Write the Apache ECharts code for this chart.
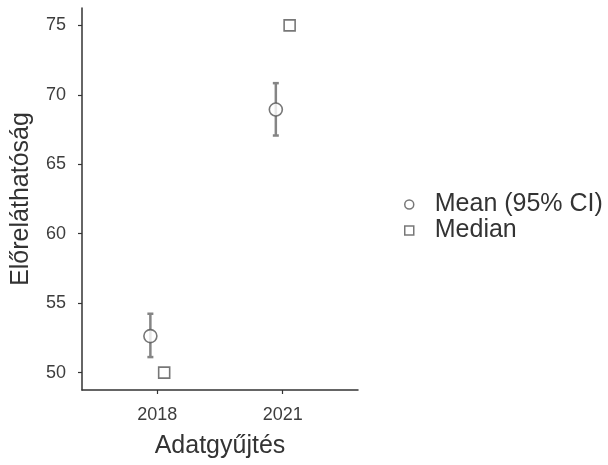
<!DOCTYPE html>
<html>
<head>
<meta charset="utf-8">
<script src="https://cdn.jsdelivr.net/npm/echarts@6/dist/echarts.min.js"></script>
<style>html,body{margin:0;padding:0;background:#fff;}#c{width:608px;height:465px;}</style>
</head>
<body>
<div id="c"></div>
<script>
var categories = ['2018', '2021'];
var meanValues = [52.63, 68.94];
var ciLower = [51.12, 67.07];
var ciUpper = [54.24, 70.84];
var medianValues = [50, 75];
var yTicks = [50, 55, 60, 65, 70, 75];
var dodge = 0.055;

var meanData = categories.map(function (c, i) { return [i + 1 - dodge, meanValues[i]]; });
var medianData = categories.map(function (c, i) { return [i + 1 + dodge, medianValues[i]]; });
var ciData = categories.map(function (c, i) { return [i + 1 - dodge, ciLower[i], ciUpper[i]]; });

var chart = echarts.init(document.getElementById('c'), null, {renderer: 'canvas'});
var FONT = 'Liberation Sans, Arial, sans-serif';
chart.setOption({
  animation: false,
  backgroundColor: '#ffffff',
  grid: {left: 82, top: 8, right: 250, bottom: 75, containLabel: false, outerBoundsMode: 'none'},
  xAxis: {
    type: 'value', min: 0.4, max: 2.6, interval: 1,
    name: 'Adatgyűjtés', nameLocation: 'middle', nameGap: 44,
    nameTextStyle: {fontFamily: FONT, fontSize: 25, color: '#333'},
    axisLine: {show: true, lineStyle: {color: '#333', width: 1.5}},
    axisTick: {show: true, length: 4, lineStyle: {color: '#333', width: 1.2}, customValues: [1, 2]},
    axisLabel: {fontFamily: FONT, fontSize: 18, color: '#3d3d3d', margin: 16, customValues: [1, 2],
      formatter: function (v) { var i = Math.round(v) - 1; return (Math.abs(v - Math.round(v)) < 1e-6 && categories[i]) ? categories[i] : ''; }},
    splitLine: {show: false}
  },
  yAxis: {
    type: 'value', min: 48.75, max: 76.25,
    name: 'Előreláthatóság', nameLocation: 'middle', nameGap: 48, nameRotate: 90,
    nameTextStyle: {fontFamily: FONT, fontSize: 25, color: '#333'},
    axisLine: {show: true, lineStyle: {color: '#333', width: 1.5}},
    axisTick: {show: true, length: 4, lineStyle: {color: '#333', width: 1.2}, customValues: yTicks},
    axisLabel: {fontFamily: FONT, fontSize: 18, color: '#3d3d3d', margin: 16, customValues: yTicks},
    splitLine: {show: false}
  },
  legend: {
    orient: 'vertical', left: 404, top: 192, padding: 0, itemGap: 1, itemWidth: 9, itemHeight: 9,
    textStyle: {fontFamily: FONT, fontSize: 25, color: '#333', padding: [0, 0, 0, 16]},
    data: [
      {name: 'Mean (95% CI)', icon: 'circle', itemStyle: {color: '#fff', borderColor: '#555', borderWidth: 1.5}},
      {name: 'Median', icon: 'rect', itemStyle: {color: '#fff', borderColor: '#555', borderWidth: 1.5}}
    ]
  },
  series: [
    {
      type: 'custom', name: 'ci', z: 1,
      data: ciData,
      renderItem: function (params, api) {
        var x = api.value(0);
        var lo = api.coord([x, api.value(1)]);
        var hi = api.coord([x, api.value(2)]);
        var cap = 3;
        var st = {stroke: '#858585', lineWidth: 2.5};
        return {type: 'group', children: [
          {type: 'line', shape: {x1: lo[0], y1: lo[1], x2: hi[0], y2: hi[1]}, style: st},
          {type: 'line', shape: {x1: lo[0] - cap, y1: lo[1], x2: lo[0] + cap, y2: lo[1]}, style: st},
          {type: 'line', shape: {x1: hi[0] - cap, y1: hi[1], x2: hi[0] + cap, y2: hi[1]}, style: st}
        ]};
      }
    },
    {
      type: 'scatter', name: 'Mean (95% CI)', z: 3, data: meanData,
      symbol: 'circle', symbolSize: 13,
      itemStyle: {color: '#fff', borderColor: '#555', borderWidth: 1.6}
    },
    {
      type: 'scatter', name: 'Median', z: 3, data: medianData,
      symbol: 'rect', symbolSize: 11,
      itemStyle: {color: '#fff', borderColor: '#555', borderWidth: 1.6}
    }
  ]
});
</script>
</body>
</html>
